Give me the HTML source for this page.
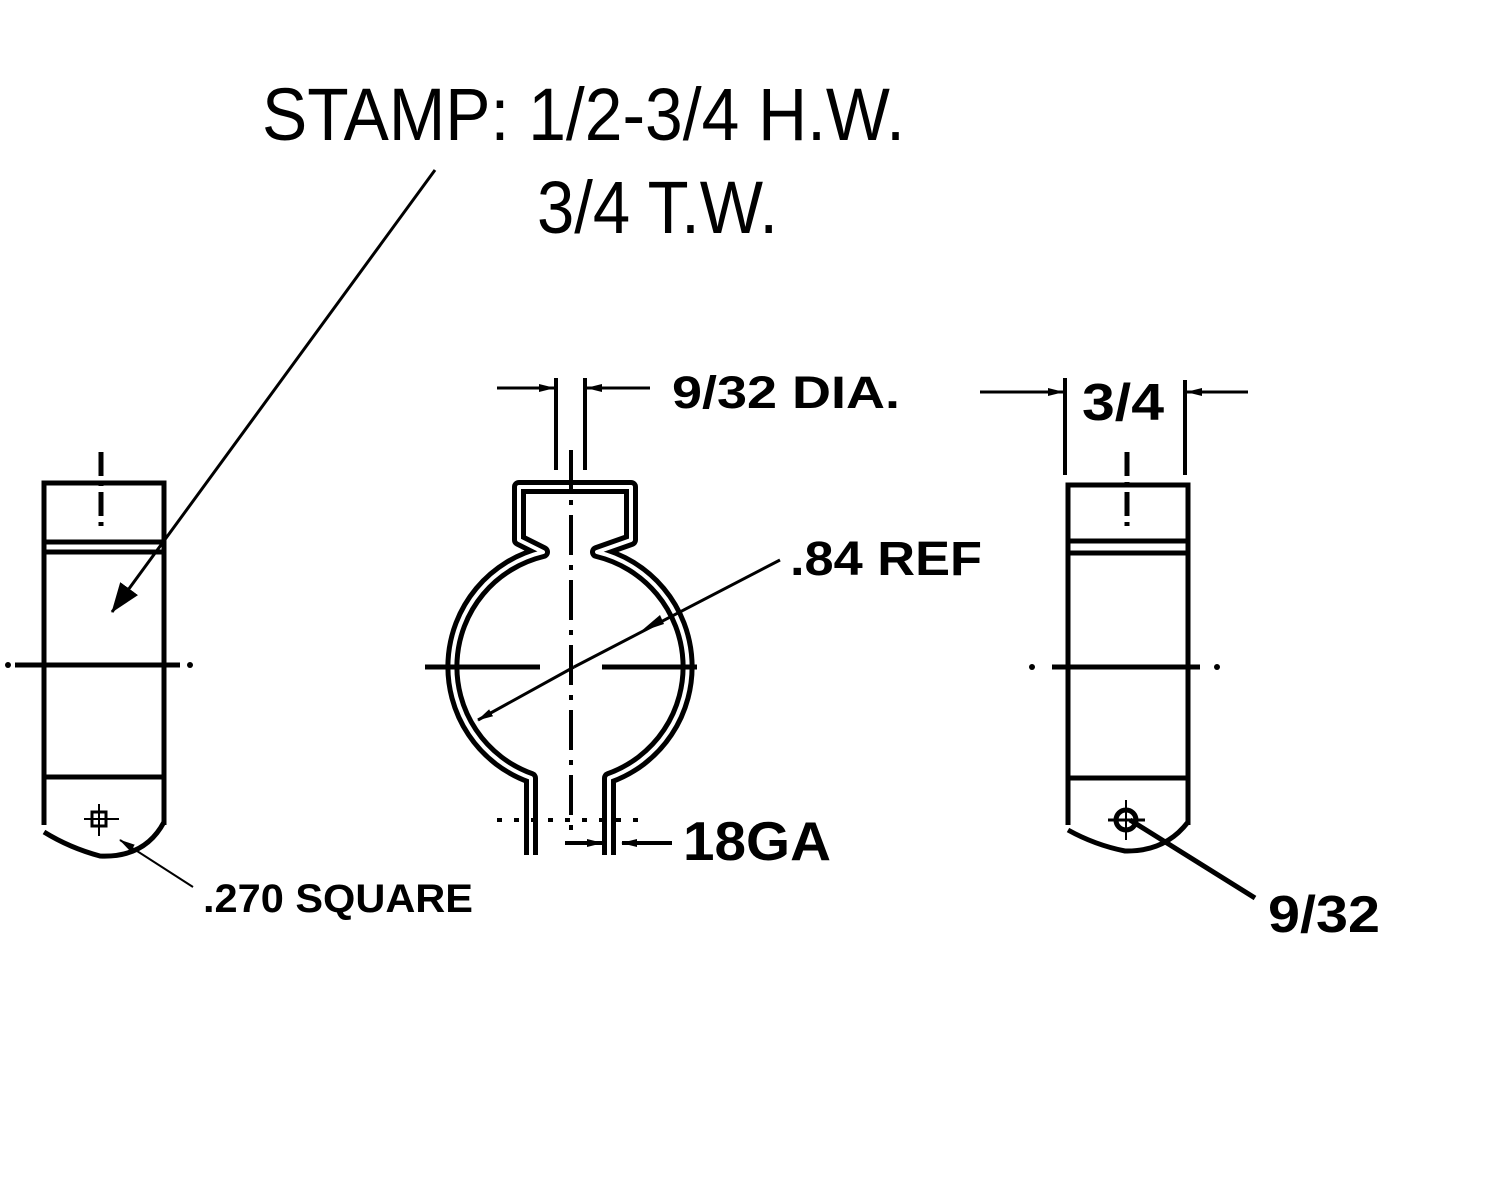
<!DOCTYPE html>
<html><head><style>html,body{margin:0;padding:0;background:#fff;}svg{display:block}</style></head>
<body>
<svg width="1500" height="1200" viewBox="0 0 1500 1200" xmlns="http://www.w3.org/2000/svg" font-family="Liberation Sans, Arial, sans-serif">
<rect width="1500" height="1200" fill="#fff"/>
<defs>
<marker id="ah" markerWidth="16" markerHeight="8" refX="15" refY="4" orient="auto" markerUnits="userSpaceOnUse"><path d="M0,0 L16,4 L0,8 Z" fill="#000"/></marker>
<marker id="big" markerWidth="30" markerHeight="22" refX="29" refY="11" orient="auto" markerUnits="userSpaceOnUse"><path d="M0,0 L30,11 L0,22 Z" fill="#000"/></marker>
</defs>
<g fill="#000">
<text x="262" y="140" font-size="74" textLength="643" lengthAdjust="spacingAndGlyphs">STAMP: 1/2-3/4 H.W.</text>
<text x="537" y="233" font-size="74" textLength="241" lengthAdjust="spacingAndGlyphs">3/4 T.W.</text>
<text x="672" y="408" font-size="45" font-weight="bold" textLength="228" lengthAdjust="spacingAndGlyphs">9/32 DIA.</text>
<text x="790" y="575" font-size="48" font-weight="bold" textLength="192" lengthAdjust="spacingAndGlyphs">.84 REF</text>
<text x="683" y="860" font-size="55" font-weight="bold" textLength="148" lengthAdjust="spacingAndGlyphs">18GA</text>
<text x="203" y="912" font-size="40" font-weight="bold" textLength="270" lengthAdjust="spacingAndGlyphs">.270 SQUARE</text>
<text x="1082" y="420" font-size="52" font-weight="bold" textLength="82" lengthAdjust="spacingAndGlyphs">3/4</text>
<text x="1268" y="932" font-size="52" font-weight="bold" textLength="112" lengthAdjust="spacingAndGlyphs">9/32</text>
</g>
<g stroke="#000" fill="none" stroke-width="5">
<!-- LEFT -->
<path d="M44,825 L44,483 L164,483 L164,825"/>
<line x1="44" y1="542" x2="164" y2="542"/>
<line x1="44" y1="552" x2="164" y2="552"/>
<line x1="44" y1="777" x2="164" y2="777"/>
<path d="M44,832 Q70,848 100,856 Q145,858 164,822"/>
<line x1="101" y1="452" x2="101" y2="530" stroke-dasharray="24,6,4,6"/>
<line x1="15" y1="665" x2="180" y2="665"/>
<circle cx="8" cy="665" r="3" fill="#000" stroke="none"/><circle cx="190" cy="665" r="3" fill="#000" stroke="none"/>
<rect x="92" y="812" width="14" height="14" stroke-width="3"/>
<line x1="84" y1="819" x2="119" y2="819" stroke-width="2"/>
<line x1="99" y1="804" x2="99" y2="836" stroke-width="2"/>
<line x1="435" y1="170" x2="112" y2="612" stroke-width="3" marker-end="url(#big)"/>
<line x1="193" y1="887" x2="120" y2="840" stroke-width="2" marker-end="url(#ah)"/>
<!-- CENTER -->
<path d="M531,855 L531,778 A118,118 0 0 1 543,552 L519,540 L519,487 L631,487 L631,540 L597,552 A118,118 0 0 1 609,778 L609,855" stroke-width="14" stroke-linejoin="round"/>
<path d="M531,855 L531,778 A118,118 0 0 1 543,552 L519,540 L519,487 L631,487 L631,540 L597,552 A118,118 0 0 1 609,778 L609,855" stroke="#fff" stroke-width="4" stroke-linejoin="round"/>
<line x1="556" y1="378" x2="556" y2="470" stroke-width="4"/>
<line x1="585" y1="378" x2="585" y2="470" stroke-width="4"/>
<line x1="497" y1="388" x2="554" y2="388" stroke-width="3" marker-end="url(#ah)"/>
<line x1="650" y1="388" x2="587" y2="388" stroke-width="3" marker-end="url(#ah)"/>
<line x1="571" y1="450" x2="571" y2="830" stroke-width="4" stroke-dasharray="40,10,5,10"/>
<line x1="425" y1="667" x2="540" y2="667"/>
<line x1="602" y1="667" x2="697" y2="667"/>
<line x1="780" y1="560" x2="574" y2="667" stroke-width="3"/>
<line x1="574" y1="667" x2="478" y2="720" stroke-width="3" marker-end="url(#ah)"/>
<path d="M640,632 L660,615 L664,624 Z" fill="#000" stroke="none"/>
<line x1="497" y1="820" x2="650" y2="820" stroke-width="4" stroke-dasharray="5,12"/>
<line x1="565" y1="843" x2="602" y2="843" stroke-width="4" marker-end="url(#ah)"/>
<line x1="672" y1="843" x2="622" y2="843" stroke-width="4" marker-end="url(#ah)"/>
<!-- RIGHT -->
<path d="M1068,825 L1068,485 L1188,485 L1188,825"/>
<line x1="1068" y1="541" x2="1188" y2="541"/>
<line x1="1068" y1="553" x2="1188" y2="553"/>
<line x1="1068" y1="778" x2="1188" y2="778"/>
<path d="M1068,830 Q1095,845 1125,851 Q1165,852 1188,822"/>
<line x1="1127" y1="452" x2="1127" y2="530" stroke-dasharray="24,6,4,6"/>
<line x1="1052" y1="667" x2="1200" y2="667"/>
<circle cx="1032" cy="667" r="3" fill="#000" stroke="none"/><circle cx="1217" cy="667" r="3" fill="#000" stroke="none"/>
<line x1="1065" y1="378" x2="1065" y2="475" stroke-width="4"/>
<line x1="1185" y1="380" x2="1185" y2="475" stroke-width="4"/>
<line x1="980" y1="392" x2="1063" y2="392" stroke-width="3" marker-end="url(#ah)"/>
<line x1="1248" y1="392" x2="1187" y2="392" stroke-width="3" marker-end="url(#ah)"/>
<circle cx="1126" cy="820" r="10"/>
<line x1="1108" y1="820" x2="1145" y2="820" stroke-width="3"/>
<line x1="1126" y1="800" x2="1126" y2="840" stroke-width="2"/>
<line x1="1255" y1="898" x2="1130" y2="820" stroke-width="5"/>
</g>
</svg>
</body></html>
